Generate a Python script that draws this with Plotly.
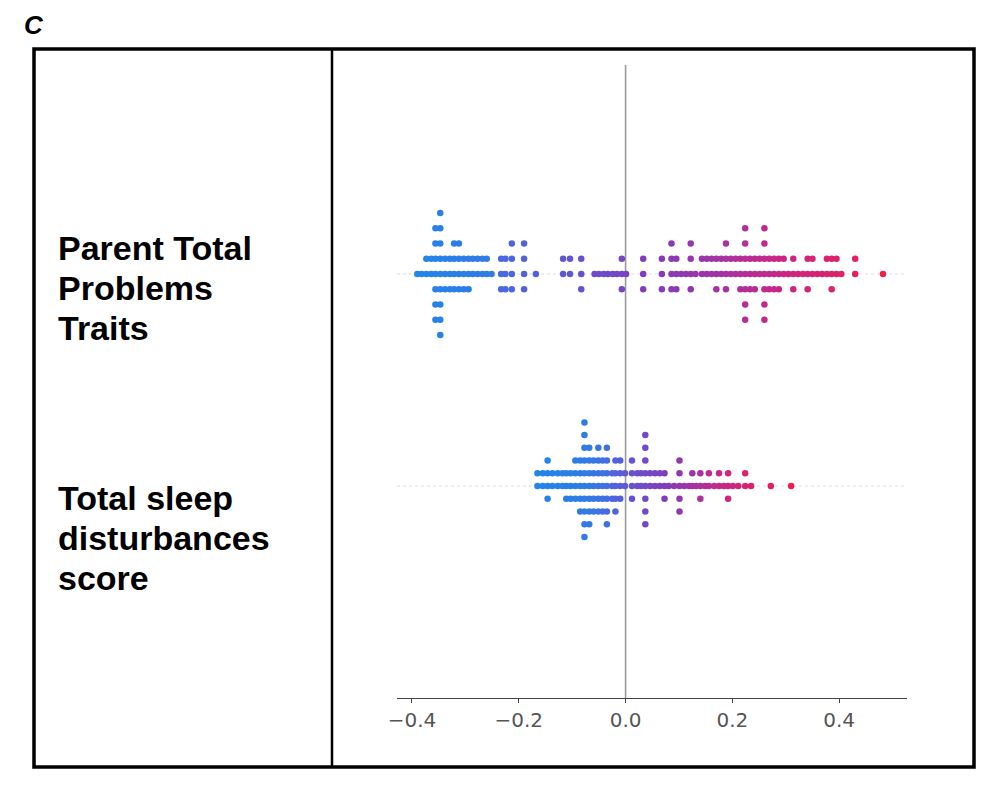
import numpy as np
import plotly.graph_objects as go

# ---------------- data ----------------
panel_label = "C"
label_lines_ptp = ["Parent Total", "Problems", "Traits"]
label_lines_sleep = ["Total sleep", "disturbances", "score"]
tick_values = [-0.4, -0.2, 0.0, 0.2, 0.4]
tick_labels = ["\u22120.4", "\u22120.2", "0.0", "0.2", "0.4"]

# Parent Total Problems Traits: SHAP value of each column, number of dots stacked there, feature value (0 low .. 1 high)
ptp_shap = [-0.390, -0.382, -0.373, -0.364, -0.356, -0.347, -0.338, -0.329, -0.321, -0.312,
            -0.303, -0.294, -0.286, -0.277, -0.268, -0.260, -0.251,
            -0.233, -0.225, -0.213, -0.190, -0.168,
            -0.117, -0.104, -0.083,
            -0.058, -0.050, -0.041, -0.033, -0.024, -0.016, -0.007, 0.001,
            0.033, 0.068, 0.086, 0.095, 0.104, 0.113, 0.122, 0.131,
            0.143, 0.152, 0.161, 0.170, 0.179, 0.188, 0.197, 0.206, 0.215, 0.224,
            0.233, 0.242, 0.251, 0.260, 0.269, 0.278, 0.287, 0.296, 0.305, 0.314,
            0.323, 0.332, 0.341, 0.350, 0.359, 0.368, 0.377, 0.386, 0.395, 0.404,
            0.430, 0.482]
ptp_count = [1, 1, 2, 2, 7, 9, 3, 3, 4, 4, 3, 3, 2, 2, 2, 2, 1,
             3, 3, 4, 4, 1,
             2, 2, 3,
             1, 1, 1, 1, 1, 1, 3, 1,
             3, 3, 4, 3, 1, 1, 4, 1,
             2, 2, 2, 3, 2, 4, 2, 2, 3, 7,
             3, 3, 2, 7, 3, 3, 3, 2, 1, 3,
             1, 1, 3, 2, 1, 1, 2, 3, 2, 1,
             2, 1]
ptp_feature = [0.02, 0.02, 0.03, 0.03, 0.04, 0.04, 0.05, 0.05, 0.06, 0.06, 0.07, 0.07, 0.08, 0.08, 0.09, 0.09, 0.10,
               0.22, 0.22, 0.24, 0.26, 0.28,
               0.34, 0.35, 0.37,
               0.40, 0.40, 0.41, 0.42, 0.43, 0.44, 0.45, 0.46,
               0.50, 0.52, 0.53, 0.54, 0.55, 0.56, 0.57, 0.58,
               0.58, 0.59, 0.60, 0.61, 0.62, 0.63, 0.64, 0.65, 0.66, 0.67,
               0.68, 0.69, 0.70, 0.71, 0.72, 0.73, 0.74, 0.75, 0.76, 0.77,
               0.78, 0.79, 0.80, 0.81, 0.82, 0.83, 0.84, 0.85, 0.86, 0.87,
               0.92, 1.00]

# Total sleep disturbances score
sleep_shap = [-0.165, -0.155, -0.146, -0.137, -0.127, -0.118,
              -0.111, -0.103, -0.094, -0.085, -0.077,
              -0.068, -0.060, -0.051, -0.043, -0.035,
              -0.025, -0.019, -0.010, -0.001,
              0.012, 0.022, 0.029, 0.037, 0.046, 0.055, 0.064,
              0.073, 0.081, 0.091, 0.101, 0.110, 0.119, 0.125, 0.132,
              0.140, 0.149, 0.156, 0.166, 0.175, 0.184, 0.192, 0.201, 0.211, 0.224, 0.235,
              0.272, 0.310]
sleep_count = [2, 2, 4, 2, 2, 2,
               3, 3, 4, 5, 10,
               7, 5, 6, 5, 7,
               3, 5, 4, 2,
               4, 2, 2, 8, 2, 2, 2,
               3, 1, 1, 5, 1, 1, 2, 1,
               3, 1, 2, 1, 2, 1, 3, 1, 1, 2, 1,
               1, 1]
sleep_feature = [0.03, 0.03, 0.04, 0.04, 0.05, 0.05,
                 0.06, 0.06, 0.07, 0.08, 0.09,
                 0.10, 0.12, 0.14, 0.16, 0.18,
                 0.22, 0.25, 0.28, 0.32,
                 0.36, 0.38, 0.40, 0.42, 0.44, 0.46, 0.48,
                 0.50, 0.52, 0.54, 0.56, 0.58, 0.60, 0.61, 0.62,
                 0.64, 0.66, 0.68, 0.70, 0.72, 0.74, 0.76, 0.78, 0.80, 0.82, 0.84,
                 0.92, 1.00]

# ---------------- layout helpers ----------------
OFF = 8                                  # page body margin
W_FIG, H_FIG = 989 - OFF, 785 - OFF
L, R, T, B = 397 - OFF, 907 - OFF, 62 - OFF, 698 - OFF   # plot area in figure pixels
PW, PH = R - L, B - T


def px_x(px):
    """reference-screen pixel -> paper x"""
    return (px - OFF - L) / PW


def px_y(py):
    """reference-screen pixel -> paper y"""
    return (B - (py - OFF)) / PH


def beeswarm(shap_vals, counts, feats, row_height=0.4):
    xs, ys, cs = [], [], []
    for v, n, c in zip(shap_vals, counts, feats):
        for layer in range(n):
            xs.append(v)
            ys.append(np.ceil(layer / 2) * (1 if layer % 2 else -1))
            cs.append(c)
    ys = np.array(ys, dtype=float)
    ys *= 0.9 * (row_height / np.max(ys + 1))
    return np.array(xs), ys, np.array(cs)


red_blue = [[0.0, "rgb(30,136,232)"], [0.25, "rgb(80,100,222)"], [0.5, "rgb(128,62,188)"],
            [0.75, "rgb(204,38,132)"], [1.0, "rgb(240,30,76)"]]

fig = go.Figure()

rows = [(1, ptp_shap, ptp_count, ptp_feature), (0, sleep_shap, sleep_count, sleep_feature)]
for pos, sv, cnt, fv in rows:
    x, dy, c = beeswarm(sv, cnt, fv)
    fig.add_trace(go.Scatter(
        x=x, y=pos + dy, mode="markers",
        marker=dict(size=6.5, color=c, colorscale=red_blue, cmin=0, cmax=1,
                    line=dict(width=0), showscale=False),
        hoverinfo="skip", showlegend=False, cliponaxis=False))

shapes = []
# feature guide lines
for pos in [1, 0]:
    shapes.append(dict(type="line", xref="paper", yref="y", x0=0, x1=1, y0=pos, y1=pos,
                       line=dict(color="#dddddd", width=1, dash="dot"), layer="below"))
# zero line
shapes.append(dict(type="line", xref="x", yref="paper", x0=0, x1=0, y0=0, y1=px_y(65),
                   line=dict(color="#9a9a9a", width=1.6), layer="below"))
# outer frame and divider
shapes.append(dict(type="rect", xref="paper", yref="paper",
                   x0=px_x(34), x1=px_x(974), y0=px_y(767), y1=px_y(49),
                   line=dict(color="black", width=3.5), fillcolor="rgba(0,0,0,0)"))
shapes.append(dict(type="line", xref="paper", yref="paper",
                   x0=px_x(332), x1=px_x(332), y0=px_y(767), y1=px_y(49),
                   line=dict(color="black", width=2.5)))

annotations = []
annotations.append(dict(text="<b><i>" + panel_label + "</i></b>", xref="paper", yref="paper",
                        x=px_x(22), y=px_y(25), xanchor="left", yanchor="middle",
                        showarrow=False, font=dict(family="Liberation Sans", size=26, color="black")))
for lines, y0 in [(label_lines_ptp, 248), (label_lines_sleep, 498)]:
    for k, line in enumerate(lines):
        annotations.append(dict(text="<b>" + line + "</b>", xref="paper", yref="paper",
                                x=px_x(56), y=px_y(y0 + 40 * k), xanchor="left", yanchor="middle",
                                showarrow=False,
                                font=dict(family="Liberation Sans", size=34, color="black")))

fig.update_layout(
    width=W_FIG, height=H_FIG,
    margin=dict(l=L, r=W_FIG - R, t=T, b=H_FIG - B, pad=0),
    paper_bgcolor="white", plot_bgcolor="white",
    shapes=shapes, annotations=annotations,
    xaxis=dict(range=[-0.428, 0.527], tickvals=tick_values, ticktext=tick_labels,
               showgrid=False, zeroline=False, showline=True, linecolor="#444", linewidth=1.3,
               ticks="outside", ticklen=4, tickwidth=1.2, tickcolor="#444",
               tickfont=dict(family="DejaVu Sans", size=20, color="#555")),
    yaxis=dict(range=[-1, 2], showgrid=False, zeroline=False, showline=False,
               showticklabels=False, ticks=""),
)

fig.write_html("out.html", config={"displayModeBar": False})
